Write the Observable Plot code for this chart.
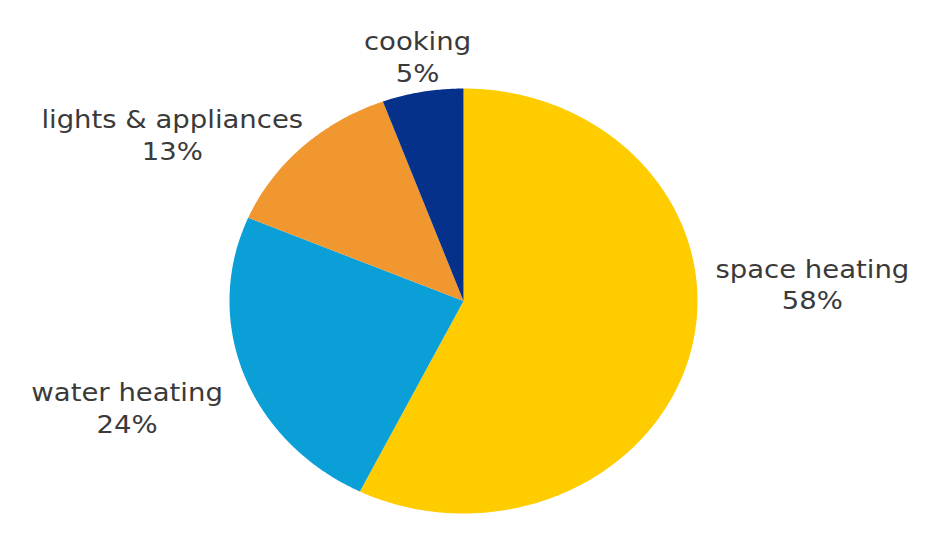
<!DOCTYPE html>
<html>
<head>
<meta charset="utf-8">
<script src="https://cdn.jsdelivr.net/npm/d3@7"></script>
<script src="https://cdn.jsdelivr.net/npm/@observablehq/plot@0.6"></script>
<style>
  html, body { margin: 0; padding: 0; background: #ffffff; }
  #chart svg { display: block; }
</style>
</head>
<body>
<div id="chart"></div>
<script>
// Data
const categories = ["space heating", "water heating", "lights & appliances", "cooking"];
const shares = [57.3, 24.1, 13.0, 5.6];
const shareLabels = ["58%", "24%", "13%", "5%"];
const sliceColors = ["#FFCC00", "#0A9FD6", "#F0972F", "#05318A"];

// label offsets (pixels) from the slice's mid-angle point on the rim
const labelOffsets = {
  "space heating": [121, -66],
  "water heating": [-117, 32],
  "lights & appliances": [-130, -13],
  "cooking": [-5, -36]
};

// Build slice polygons (clockwise from 12 o'clock) in unit coordinates
const total = d3.sum(shares);
const slicePoints = [];
const labelAnchors = [];
let acc = 0;
categories.forEach((cat, i) => {
  const a0 = acc / total * 2 * Math.PI;
  acc += shares[i];
  const a1 = acc / total * 2 * Math.PI;
  const n = Math.max(2, Math.ceil((a1 - a0) / (Math.PI / 360)));
  slicePoints.push({cat, x: 0, y: 0});
  for (let k = 0; k <= n; k++) {
    const a = a0 + (a1 - a0) * k / n;
    slicePoints.push({cat, x: Math.sin(a), y: Math.cos(a)});
  }
  slicePoints.push({cat, x: 0, y: 0});
  const am = (a0 + a1) / 2;
  labelAnchors.push({cat, x: Math.sin(am), y: Math.cos(am), text: cat + "\n" + shareLabels[i]});
});

const textMarks = labelAnchors.map(d => Plot.text([d], {
  x: "x", y: "y", text: "text",
  dx: labelOffsets[d.cat][0], dy: labelOffsets[d.cat][1],
  textAnchor: "middle", lineAnchor: "middle", lineHeight: 1.26,
  fontSize: 25, fontFamily: "DejaVu Sans", fill: "#3a3a3a"
}));

const chart = Plot.plot({
  width: 926,
  height: 533,
  style: {background: "#ffffff", fontFamily: "DejaVu Sans"},
  x: {domain: [-1, 1], range: [229, 697], axis: null},
  y: {domain: [-1, 1], range: [513, 88], axis: null},
  color: {domain: categories, range: sliceColors},
  marks: [
    Plot.line(slicePoints, {x: "x", y: "y", z: "cat", fill: "cat", stroke: null, curve: "linear"}),
    ...textMarks
  ]
});
// the reference is slightly stretched horizontally: widen the label glyphs
d3.select(chart).selectAll("text").each(function() {
  const t = this.getAttribute("transform");
  if (t) this.setAttribute("transform", t + " scale(1.1,1)");
});
document.getElementById("chart").appendChild(chart);
</script>
</body>
</html>
